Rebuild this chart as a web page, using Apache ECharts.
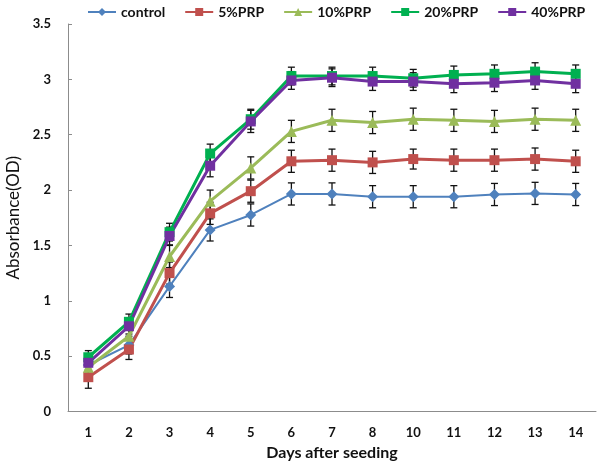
<!DOCTYPE html>
<html>
<head>
<meta charset="utf-8">
<script src="https://cdn.jsdelivr.net/npm/echarts@6/dist/echarts.min.js"></script>
<style>html,body{margin:0;padding:0;background:#fff}#c{width:600px;height:470px}</style>
</head>
<body>
<div id="c"></div>
<script>
var days = ['1','2','3','4','5','6','7','8','10','11','12','13','14'];
var seriesNames = ['control','5%PRP','10%PRP','20%PRP','40%PRP'];
var control = [0.42, 0.60, 1.13, 1.64, 1.775, 1.965, 1.965, 1.94, 1.94, 1.94, 1.96, 1.97, 1.96];
var prp5    = [0.31, 0.56, 1.25, 1.79, 1.99, 2.26, 2.27, 2.25, 2.28, 2.27, 2.27, 2.28, 2.26];
var prp10   = [0.40, 0.68, 1.40, 1.90, 2.20, 2.53, 2.63, 2.61, 2.64, 2.63, 2.62, 2.64, 2.63];
var prp20   = [0.49, 0.81, 1.62, 2.33, 2.64, 3.03, 3.03, 3.03, 3.01, 3.04, 3.05, 3.07, 3.05];
var prp40   = [0.44, 0.77, 1.585, 2.22, 2.62, 2.99, 3.015, 2.98, 2.98, 2.96, 2.97, 2.99, 2.96];
var errControl = [0.06, 0.08, 0.10, 0.10, 0.10, 0.10, 0.10, 0.10, 0.10, 0.10, 0.10, 0.10, 0.10];
var err5  = [0.10, 0.09, 0.10, 0.10, 0.10, 0.10, 0.10, 0.10, 0.09, 0.10, 0.10, 0.10, 0.10];
var err10 = [0.06, 0.08, 0.10, 0.10, 0.10, 0.10, 0.10, 0.10, 0.10, 0.10, 0.10, 0.10, 0.10];
var err20 = [0.06, 0.07, 0.08, 0.085, 0.09, 0.08, 0.08, 0.08, 0.08, 0.08, 0.08, 0.08, 0.08];
var err40 = [0.06, 0.07, 0.08, 0.10, 0.10, 0.08, 0.08, 0.08, 0.08, 0.08, 0.08, 0.08, 0.08];
var yTicks = ['0','0.5','1','1.5','2','2.5','3','3.5'];

var values = [control, prp5, prp10, prp20, prp40];
var errors = [errControl, err5, err10, err20, err40];
var colors = ['#4F81BD', '#C0504D', '#9BBB59', '#00B050', '#7030A0'];
var symbols = ['diamond', 'rect', 'triangle', 'rect', 'rect'];
var symSizes = [11, 10, 11, 10, 10];
var widths = [2, 3, 3, 3, 3];
var FONT = 'Lato';

var series = [];
values.forEach(function (vals, s) {
  series.push({
    type: 'custom',
    name: seriesNames[s] + '_err',
    z: 1,
    silent: true,
    data: vals.map(function (v, i) { return [i, v - errors[s][i], v + errors[s][i]]; }),
    renderItem: function (params, api) {
      var lo = api.coord([api.value(0), api.value(1)]);
      var hi = api.coord([api.value(0), api.value(2)]);
      var w = 3.5;
      var st = { stroke: '#111', lineWidth: 1.3 };
      return { type: 'group', children: [
        { type: 'line', shape: { x1: lo[0], y1: lo[1], x2: hi[0], y2: hi[1] }, style: st },
        { type: 'line', shape: { x1: lo[0] - w, y1: lo[1], x2: lo[0] + w, y2: lo[1] }, style: st },
        { type: 'line', shape: { x1: hi[0] - w, y1: hi[1], x2: hi[0] + w, y2: hi[1] }, style: st }
      ]};
    }
  });
});
values.forEach(function (vals, s) {
  series.push({
    type: 'line',
    name: seriesNames[s],
    z: 3,
    data: vals,
    symbol: symbols[s],
    symbolSize: symSizes[s],
    showAllSymbol: true,
    lineStyle: { color: colors[s], width: widths[s] },
    itemStyle: { color: colors[s], borderWidth: 0 },
    emphasis: { disabled: true }
  });
});

var chart = echarts.init(document.getElementById('c'), null, { renderer: 'canvas' });
chart.setOption({
  animation: false,
  backgroundColor: '#ffffff',
  textStyle: { fontFamily: FONT },
  legend: {
    data: seriesNames,
    top: 0,
    left: 82,
    width: 515,
    itemWidth: 28,
    itemHeight: 10,
    itemGap: 19,
    textStyle: { fontFamily: FONT, fontWeight: 'bold', fontSize: 14, color: '#111' }
  },
  grid: { left: 68, right: 4, top: 24, bottom: 58.5, containLabel: false, outerBoundsMode: 'none' },
  xAxis: {
    type: 'category',
    data: days,
    boundaryGap: true,
    name: 'Days after seeding',
    nameLocation: 'middle',
    nameGap: 32,
    nameTextStyle: { fontFamily: FONT, fontWeight: 'bold', fontSize: 16, color: '#111' },
    axisLine: { lineStyle: { color: '#8c8c8c', width: 1 } },
    axisTick: { inside: true, length: 4, lineStyle: { color: '#8c8c8c' } },
    axisLabel: { margin: 15, fontFamily: FONT, fontWeight: 'bold', fontSize: 13, color: '#111' },
    splitLine: { show: false }
  },
  yAxis: {
    type: 'value',
    min: 0,
    max: 3.5,
    interval: 0.5,
    name: 'Absorbance(OD)',
    nameLocation: 'middle',
    nameGap: 46,
    nameTextStyle: { fontFamily: FONT, fontWeight: 'normal', fontSize: 17, color: '#111' },
    axisLine: { show: true, lineStyle: { color: '#8c8c8c', width: 1 } },
    axisTick: { show: true, inside: true, length: 4, lineStyle: { color: '#8c8c8c' } },
    axisLabel: {
      margin: 17, fontFamily: FONT, fontWeight: 'bold', fontSize: 13, color: '#111',
      formatter: function (v) { return yTicks[Math.round(v / 0.5)]; }
    },
    splitLine: { show: false }
  },
  series: series
});
</script>
</body>
</html>
